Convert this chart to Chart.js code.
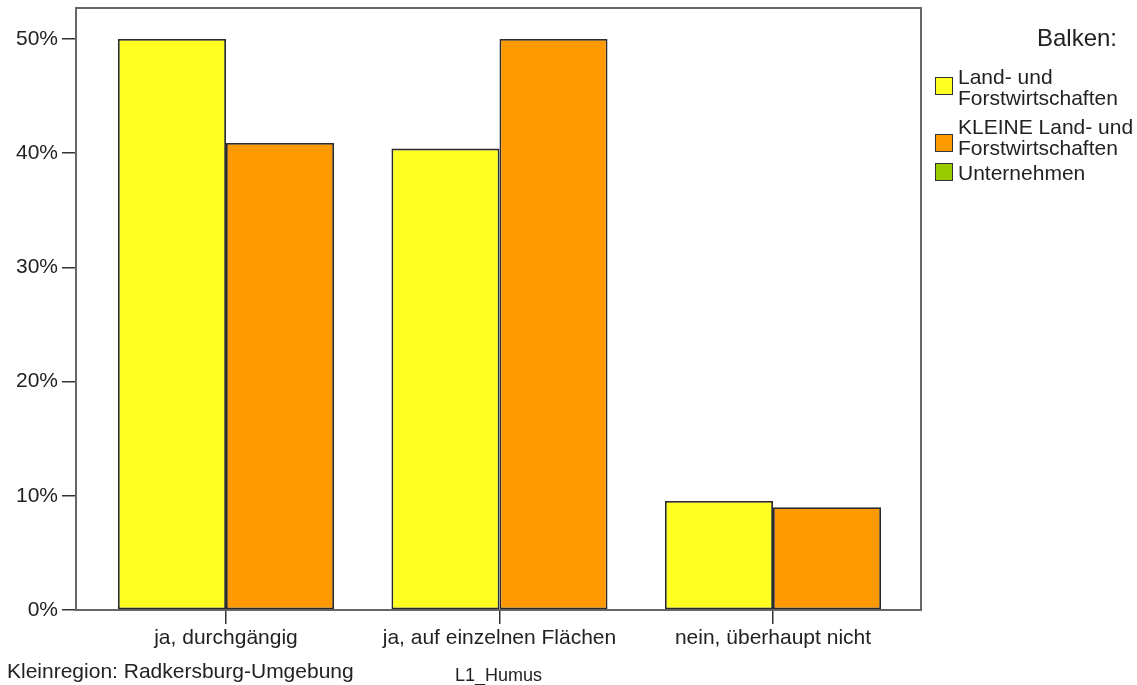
<!DOCTYPE html>
<html>
<head>
<meta charset="utf-8">
<script src="https://cdn.jsdelivr.net/npm/chart.js@4"></script>
<style>
	body { margin: 0; background: #fff; }
	#wrap { position: relative; width: 1137px; height: 685px; font-family: "Liberation Sans", Arial, sans-serif; color: #222; }
	#plot { position: absolute; left: 0; top: 0; }
	.txt { position: absolute; font-size: 21px; line-height: 21px; white-space: nowrap; }
	.sw { position: absolute; left: 935px; width: 16px; height: 16px; border: 1.5px solid #333; }
	#title { position: absolute; right: 20px; top: 24px; font-size: 24px; line-height: 28px; }
</style>
</head>
<body>
<div id="wrap">
	<canvas id="plot" width="1137" height="685"></canvas>
	<div id="title">Balken:</div>
	<div id="legend"></div>
	<div class="txt" style="left:7px; top:660px;">Kleinregion: Radkersburg-Umgebung</div>
</div>
<script>
// categories and values (percent)
const categories = ["ja, durchgängig", "ja, auf einzelnen Flächen", "nein, überhaupt nicht"];
const seriesNames = ["Land- und\nForstwirtschaften", "KLEINE Land- und\nForstwirtschaften", "Unternehmen"];
const landForst = [50, 40.4, 9.55];
const kleineLandForst = [40.9, 50, 9.0];
const unternehmen = [null, null, null];
const yTicks = [0, 10, 20, 30, 40, 50];

const colors = ["#ffff22", "#ff9900", "#99cc00"];

// legend (html)
const legendTops = [[66, 77], [116, 134], [162, 163]];
const legend = document.getElementById('legend');
seriesNames.forEach((name, i) => {
	let html = "<div class=\"sw\" style=\"top:" + legendTops[i][1] + "px; background:" + colors[i] + "\"></div>";
	html += "<div class=\"txt\" style=\"left:958px; top:" + legendTops[i][0] + "px;\">" + name.replace("\n", "<br>") + "</div>";
	legend.insertAdjacentHTML("beforeend", html);
});

// frame round the plot area
const framePlugin = {
	id: 'frame',
	beforeDatasetsDraw(chart) {
		const a = chart.chartArea;
		const ctx = chart.ctx;
		ctx.save();
		ctx.strokeStyle = '#666';
		ctx.lineWidth = 2;
		ctx.strokeRect(a.left, a.top, a.right - a.left, a.bottom - a.top);
		ctx.restore();
	}
};

new Chart("plot", {
	type: "bar",
	data: {
		labels: categories,
		datasets: [
			{ label: seriesNames[0], data: landForst, backgroundColor: colors[0] },
			{ label: seriesNames[1], data: kleineLandForst, backgroundColor: colors[1] },
			{ label: seriesNames[2], data: unternehmen, backgroundColor: colors[2] }
		]
	},
	options: {
		responsive: false,
		animation: false,
		layout: { padding: { top: 8, right: 216, left: 0, bottom: 0 } },
		datasets: {
			bar: {
				borderColor: "#2a2a2a",
				borderWidth: 1.8,
				borderSkipped: false,
				categoryPercentage: 0.79,
				barPercentage: 1,
				skipNull: true
			}
		},
		plugins: {
			legend: { display: false },
			tooltip: { enabled: false }
		},
		scales: {
			x: {
				offset: true,
				border: { display: false },
				grid: { offset: false, drawOnChartArea: false, drawTicks: true, tickLength: 14, color: "#333", lineWidth: 1.5 },
				ticks: { color: "#222", padding: 2, maxRotation: 0, font: { family: "'Liberation Sans', Arial, sans-serif", size: 21 } },
				title: { display: true, text: "L1_Humus", color: "#222", padding: { top: 0, bottom: 0 }, font: { family: "'Liberation Sans', Arial, sans-serif", size: 18, lineHeight: 1 } },
				afterBuildTicks: scale => {
					// SPSS leaves a little more room at the left of the first group
					scale._startValue = -0.5484;
					scale._valueRange = 3.0896;
				},
				afterFit: scale => {
					scale.height = 75;
					scale.paddingLeft = 0;
					scale.paddingRight = 0;
				}
			},
			y: {
				min: 0,
				max: 52.71,
				border: { display: false },
				grid: { drawOnChartArea: false, drawTicks: true, tickLength: 14, color: "#333", lineWidth: 1.5 },
				ticks: {
					stepSize: 10,
					padding: 4,
					color: "#222",
					font: { family: "'Liberation Sans', Arial, sans-serif", size: 21 },
					callback: v => v + "%"
				},
				afterBuildTicks: scale => {
					scale.ticks = yTicks.map(v => ({ value: v }));
				},
				afterFit: scale => {
					scale.width = 76;
					scale.paddingTop = 0;
					scale.paddingBottom = 0;
				}
			}
		}
	},
	plugins: [framePlugin]
});
</script>
</body>
</html>
